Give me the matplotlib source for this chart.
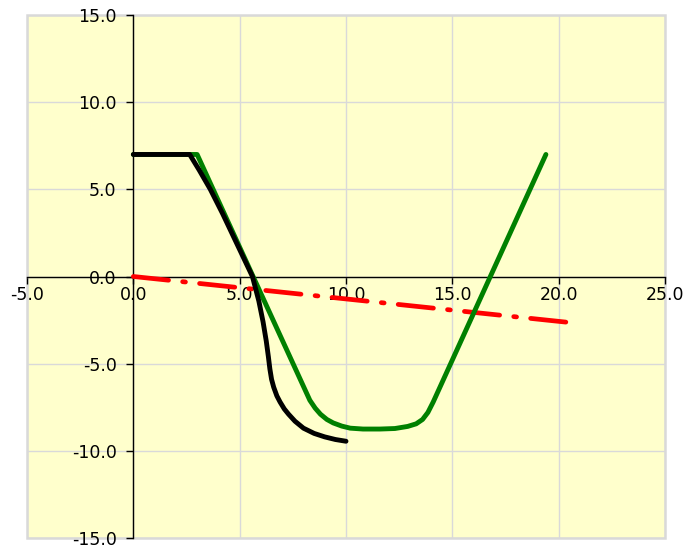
import matplotlib.pyplot as plt
from matplotlib.patches import Rectangle

# series
red_x = [0.0, 20.6]
red_y = [0.0, -2.65]

green_x = [0.0, 3.0, 8.3, 8.55, 8.8, 9.1, 9.4, 9.8, 10.2, 10.8, 11.6, 12.3,
           12.9, 13.3, 13.6, 13.85, 14.1, 19.4]
green_y = [7.0, 7.0, -7.1, -7.55, -7.9, -8.2, -8.4, -8.58, -8.7, -8.75,
           -8.75, -8.72, -8.6, -8.45, -8.2, -7.8, -7.2, 7.0]

black_x = [0.0, 2.65, 3.1, 3.62, 4.2, 4.9, 5.6, 5.9, 6.1, 6.25, 6.35, 6.42,
           6.5, 6.6, 6.75, 6.9, 7.1, 7.3, 7.6, 8.0, 8.5, 9.0, 9.5, 10.0]
black_y = [7.0, 7.0, 6.1, 5.0, 3.6, 1.8, 0.0, -1.4, -2.6, -3.7, -4.6, -5.3,
           -5.9, -6.35, -6.85, -7.2, -7.6, -7.9, -8.3, -8.7, -9.0, -9.2,
           -9.35, -9.45]

x_ticks = [-5, 0, 5, 10, 15, 20, 25]
y_ticks = [-15, -10, -5, 0, 5, 10, 15]

fig = plt.figure(figsize=(6.89, 5.48), dpi=100)
ax = fig.add_axes([27 / 689, 10 / 548, 638 / 689, 523 / 548])
ax.set_facecolor('#FFFFCC')
ax.set_xlim(-5, 25)
ax.set_ylim(-15, 15)
ax.set_xticks(x_ticks)
ax.set_yticks(y_ticks)
ax.set_xticklabels(['%.1f' % v for v in x_ticks])
ax.set_yticklabels(['%.1f' % v for v in y_ticks])
ax.grid(True, color='#D9D9D9', lw=1)
ax.set_axisbelow(True)

for s in ['top', 'right']:
    ax.spines[s].set_visible(False)
ax.spines['left'].set_position('zero')
ax.spines['bottom'].set_position('zero')
ax.spines['left'].set_color('black')
ax.spines['bottom'].set_color('black')
ax.spines['left'].set_linewidth(1)
ax.spines['bottom'].set_linewidth(1)
ax.tick_params(direction='out', length=5, width=1, labelsize=12.5,
               colors='black')
ax.tick_params(axis='x', pad=2)
ax.tick_params(axis='y', pad=7)

ax.add_patch(Rectangle((0, 0), 1, 1, transform=ax.transAxes, fill=False,
                       edgecolor='#D9D9D9', lw=1.8, clip_on=False, zorder=0.5))

ax.plot(red_x, red_y, color='red', lw=3.4, dashes=(7.5, 3.0, 0.6, 3.0),
        dash_capstyle='round', zorder=3)
ax.plot(green_x, green_y, color='green', lw=3.5, zorder=3,
        solid_joinstyle='round', solid_capstyle='round')
ax.plot(black_x, black_y, color='black', lw=3.5, zorder=4,
        solid_joinstyle='round', solid_capstyle='round')

fig.savefig('out.png', dpi=100)
